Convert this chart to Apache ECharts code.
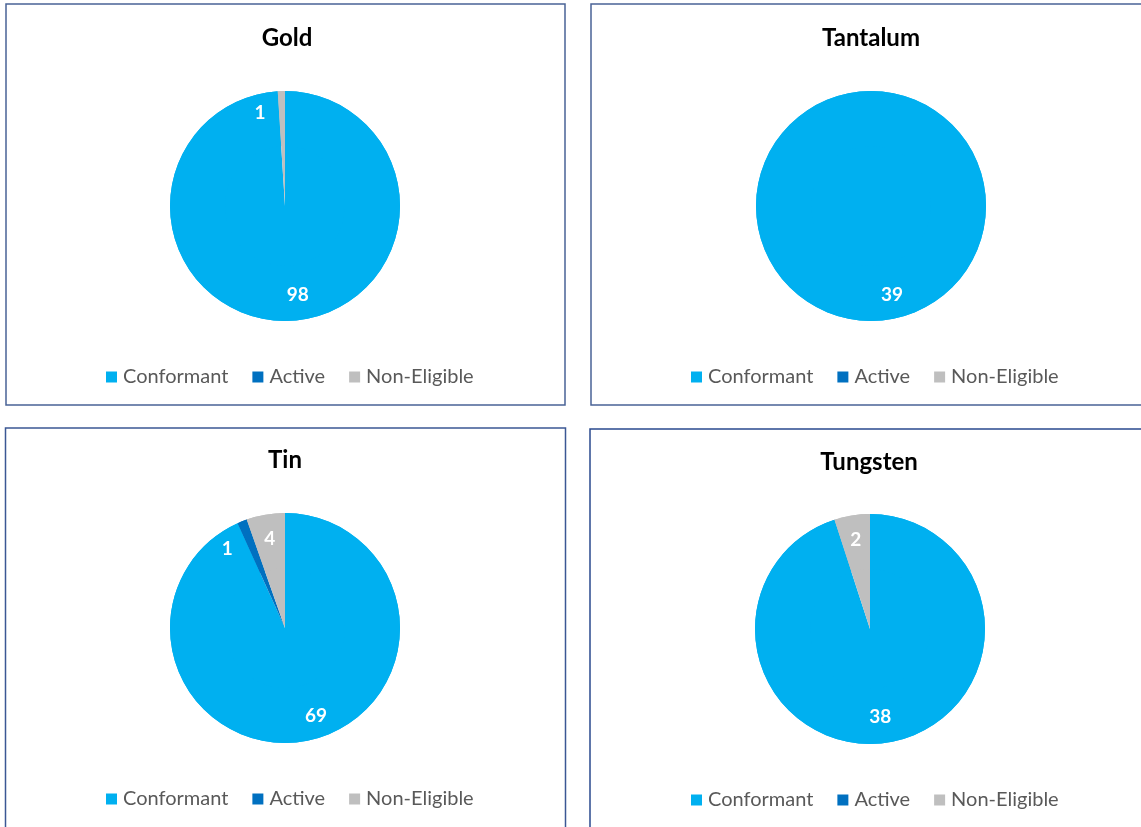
<!DOCTYPE html>
<html>
<head>
<meta charset="utf-8">
<script src="https://cdn.jsdelivr.net/npm/echarts@6/dist/echarts.min.js"></script>
<style>
  html, body { margin: 0; padding: 0; background: #ffffff; }
  #chart { width: 1141px; height: 827px; }
</style>
</head>
<body>
<div id="chart"></div>
<script>
// ---- data ----
const categories = ['Conformant', 'Active', 'Non-Eligible'];
const metals = ['Gold', 'Tantalum', 'Tin', 'Tungsten'];
const goldValues = [98, 0, 1];
const tantalumValues = [39, 0, 0];
const tinValues = [69, 1, 4];
const tungstenValues = [38, 0, 2];
const seriesValues = [goldValues, tantalumValues, tinValues, tungstenValues];

// ---- styles / layout ----
const colors = ['#00B0F0', '#0070C0', '#BFBFBF'];
const panels = [
  { box: [6, 4, 559, 401],   center: [285, 206], titleX: 287, titleY: 37,  legendLeft: 106, legendY: 376, stroke: '#4A6396' },
  { box: [591, 4, 560, 401], center: [871, 206], titleX: 871, titleY: 37,  legendLeft: 691, legendY: 376, stroke: '#4A6396' },
  { box: [5.5, 428, 560, 410], center: [285, 628], titleX: 285, titleY: 459, legendLeft: 106, legendY: 798, stroke: '#3B5794' },
  { box: [590, 429, 560, 410], center: [870, 629], titleX: 869, titleY: 461, legendLeft: 691, legendY: 799, stroke: '#2A4A8F' }
];
const radius = 115;
const labelRingInner = 60;
// small label nudges (Excel "best fit" placement of thin slices)
const labelNudge = {
  '0-0': [10, -2], '0-2': [-22, -3],
  '1-0': [21, -2],
  '2-0': [12, -1], '2-1': [-24, 5],
  '3-0': [-4, -2]
};
const FONT = 'Lato, "Open Sans", sans-serif';

const chart = echarts.init(document.getElementById('chart'), null, { renderer: 'canvas' });

const titles = [], legends = [], series = [], graphics = [];
metals.forEach((metal, p) => {
  const cfg = panels[p];
  const vals = seriesValues[p];
  graphics.push({
    type: 'rect', silent: true,
    shape: { x: cfg.box[0], y: cfg.box[1], width: cfg.box[2], height: cfg.box[3] },
    style: { fill: 'none', stroke: cfg.stroke, lineWidth: 1.5 }
  });
  titles.push({
    text: metal, left: cfg.titleX, top: cfg.titleY - 11, textAlign: 'center', padding: 0,
    textStyle: { fontFamily: FONT, fontWeight: 'bold', fontSize: 24, color: '#000000' }
  });
  legends.push({
    data: categories, left: cfg.legendLeft, top: cfg.legendY - 9, padding: 0,
    orient: 'horizontal', icon: 'rect', itemWidth: 11, itemHeight: 11, itemGap: 24,
    selectedMode: false,
    textStyle: { fontFamily: FONT, fontSize: 20, color: '#595959', padding: [0, 0, 0, 1] }
  });
  const baseData = categories.map((c, i) => ({ name: c, value: vals[i], itemStyle: { color: colors[i] } }));
  series.push({
    type: 'pie', center: cfg.center, radius: [0, radius], startAngle: 90, clockwise: true,
    silent: true, animation: false, label: { show: false }, labelLine: { show: false },
    itemStyle: { borderWidth: 0 }, data: baseData
  });
  series.push({
    type: 'pie', center: cfg.center, radius: [labelRingInner, radius], startAngle: 90, clockwise: true,
    silent: true, animation: false, labelLine: { show: false },
    itemStyle: { borderWidth: 0 },
    label: {
      show: true, position: 'inside', color: '#FFFFFF', fontFamily: FONT, fontWeight: 'bold', fontSize: 19,
      formatter: (d) => (d.value > 0 ? String(d.value) : '')
    },
    data: categories.map((c, i) => {
      const item = { name: c, value: vals[i], itemStyle: { color: colors[i] } };
      const n = labelNudge[p + '-' + i];
      if (n) item.label = { offset: n };
      return item;
    })
  });
});

chart.setOption({
  backgroundColor: '#ffffff',
  animation: false,
  title: titles,
  legend: legends,
  graphic: graphics,
  series: series
});
</script>
</body>
</html>
